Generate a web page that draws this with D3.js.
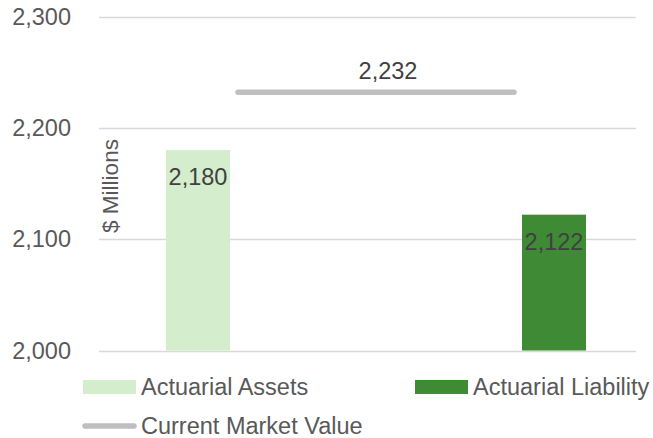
<!DOCTYPE html>
<html>
<head>
<meta charset="utf-8">
<script src="https://cdn.jsdelivr.net/npm/d3@7"></script>
<style>
  body { margin: 0; background: #fff; }
  text { font-family: "Liberation Sans", Arial, sans-serif; }
</style>
</head>
<body>
<div id="chart"></div>
<script>
// data
const barNames = ["Actuarial Assets", "Actuarial Liability"];
const barValues = [2180, 2122];
const barColors = ["#d3edcd", "#3f8a35"];
const lineName = "Current Market Value";
const lineValue = 2232;
const yTicks = [2000, 2100, 2200, 2300];

const W = 653, H = 438;
const svg = d3.select("#chart").append("svg")
    .attr("width", W)
    .attr("height", H);

// y scale
const y = d3.scaleLinear()
    .domain([2000, 2300])
    .range([350.5, 16.5]);

// x positions: bar, line, bar
const x = d3.scalePoint()
    .domain([barNames[0], lineName, barNames[1]])
    .range([198, 554]);

const barW = 64;
const lineW = 282;

// gridlines
svg.append("g")
    .selectAll("line")
    .data(yTicks)
    .enter()
    .append("line")
    .attr("x1", 99)
    .attr("x2", 636)
    .attr("y1", d => Math.round(y(d)) + 0.5)
    .attr("y2", d => Math.round(y(d)) + 0.5)
    .attr("stroke", "#d9d9d9")
    .attr("stroke-width", 1.3);

// y tick labels
const fmt = d3.format(",");
svg.append("g")
    .selectAll("text")
    .data(yTicks)
    .enter()
    .append("text")
    .attr("x", 71)
    .attr("y", d => y(d) + 8)
    .attr("text-anchor", "end")
    .attr("font-size", "23.5px")
    .attr("fill", "#595959")
    .text(d => fmt(d));

// bars
svg.append("g")
    .selectAll("rect")
    .data(barValues)
    .enter()
    .append("rect")
    .attr("x", (d, i) => x(barNames[i]) - barW / 2)
    .attr("y", d => y(d))
    .attr("width", barW)
    .attr("height", d => y(2000) - y(d))
    .attr("fill", (d, i) => barColors[i]);

// bar labels
svg.append("g")
    .selectAll("text")
    .data(barValues)
    .enter()
    .append("text")
    .attr("x", (d, i) => x(barNames[i]))
    .attr("y", d => y(d) + 35)
    .attr("text-anchor", "middle")
    .attr("font-size", "23.5px")
    .attr("fill", "#404040")
    .text(d => fmt(d));

// market value line
svg.append("line")
    .attr("x1", x(lineName) - lineW / 2 + 3)
    .attr("x2", x(lineName) + lineW / 2 - 3)
    .attr("y1", y(lineValue))
    .attr("y2", y(lineValue))
    .attr("stroke", "#bfbfbf")
    .attr("stroke-width", 5.5)
    .attr("stroke-linecap", "round");

svg.append("text")
    .attr("x", x(lineName) + 12)
    .attr("y", y(lineValue) - 13)
    .attr("text-anchor", "middle")
    .attr("font-size", "23.5px")
    .attr("fill", "#404040")
    .text(fmt(lineValue));

// axis title
svg.append("text")
    .attr("transform", "translate(118,186) rotate(-90)")
    .attr("text-anchor", "middle")
    .attr("font-size", "22.5px")
    .attr("fill", "#595959")
    .text("$ Millions");

// legend
const legend = svg.append("g");
const legendItems = [
    {name: barNames[0], type: "rect", color: barColors[0], x: 83, y: 387},
    {name: barNames[1], type: "rect", color: barColors[1], x: 415, y: 387},
    {name: lineName, type: "line", color: "#bfbfbf", x: 83, y: 426}
];
legendItems.forEach(function(d) {
    if (d.type === "rect") {
        legend.append("rect")
            .attr("x", d.x)
            .attr("y", d.y - 7)
            .attr("width", 53)
            .attr("height", 14)
            .attr("fill", d.color);
    } else {
        legend.append("line")
            .attr("x1", d.x + 2)
            .attr("x2", d.x + 51)
            .attr("y1", d.y)
            .attr("y2", d.y)
            .attr("stroke", d.color)
            .attr("stroke-width", 5.5)
            .attr("stroke-linecap", "round");
    }
    legend.append("text")
        .attr("x", d.x + 58)
        .attr("y", d.y + 7.5)
        .attr("font-size", "23.5px")
        .attr("fill", "#595959")
        .text(d.name);
});
</script>
</body>
</html>
